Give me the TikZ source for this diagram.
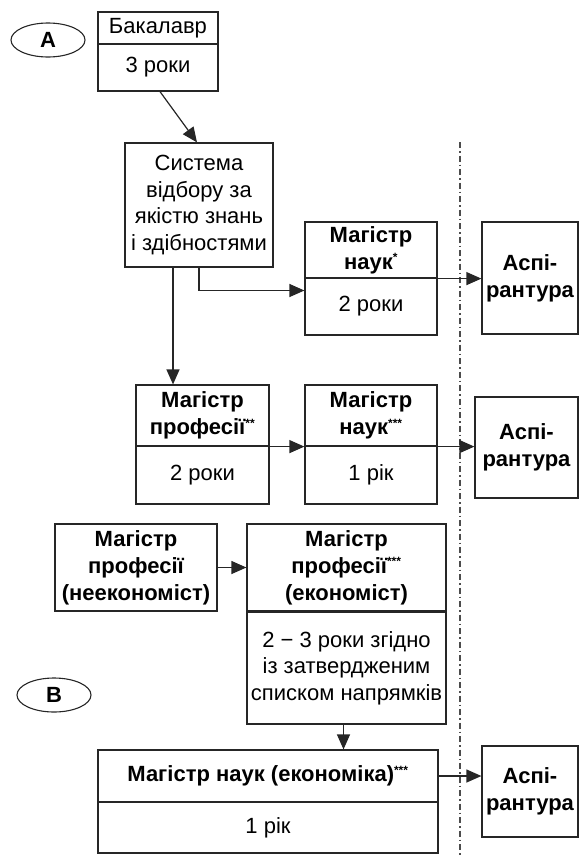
\documentclass[tikz,border=0pt]{standalone}
\usepackage{fontspec}
\setmainfont{Liberation Sans}
\usetikzlibrary{shapes.geometric,arrows.meta,calc}
\tikzset{
  box/.style={draw=black!85, line width=1.2pt, inner sep=0pt, align=center,
    font=\fontsize{22}{26.5}\selectfont},
  bbox/.style={box, font=\fontsize{22}{27}\selectfont\bfseries},
  oval/.style={ellipse, draw=black!85, line width=1.1pt, inner sep=0pt,
    minimum width=74pt, minimum height=34pt, font=\fontsize{22}{24}\selectfont\bfseries},
  arr/.style={draw=black!85, line width=1.2pt, -{Triangle[length=15pt,width=13pt]}},
  divline/.style={draw=black!70, line width=1.2pt, dash pattern=on 6pt off 3pt on 1.5pt off 3pt}
}
\newcommand{\st}[1]{\textsuperscript{\fontsize{12}{12}\selectfont #1}}
\begin{document}
\begin{tikzpicture}[x=1pt,y=-1pt]
\useasboundingbox (0,0) rectangle (579,857);
% dashed separator
\coordinate (dtop) at (460,142);
\coordinate (dbot) at (460,857);
\draw[divline] (dtop) -- (dbot);
% labels
\node[oval] (ovA) at (48,40) {A};
\node[oval] (ovB) at (54,695) {B};
% bachelor
\node[box, minimum width=120pt, minimum height=32pt] (bakT) at (158,28) {Бакалавр};
\node[box, minimum width=120pt, minimum height=47pt] (bakB) at (158,67.5) {3 роки};
% selection system
\node[box, minimum width=148pt, minimum height=124pt] (sys) at (199,205) {Система\\відбору за\\якістю знань\\і здібностями};
% master of science *
\node[bbox, minimum width=132pt, minimum height=56pt] (naukT) at (371,250) {Магістр\\наук\st{*}};
\node[box, minimum width=132pt, minimum height=57pt] (naukB) at (371,306.5) {2 роки};
\node[bbox, minimum width=96pt, minimum height=112pt] (asp1) at (530,278) {Аспі-\\рантура};
% master of profession **
\node[bbox, minimum width=133pt, minimum height=61pt] (profT) at (202.5,415.5) {Магістр\\професії\st{**}};
\node[box, minimum width=133pt, minimum height=58pt] (profB) at (202.5,475) {2 роки};
\node[bbox, minimum width=132pt, minimum height=61pt] (nauk3T) at (371,415.5) {Магістр\\наук\st{***}};
\node[box, minimum width=132pt, minimum height=58pt] (nauk3B) at (371,475) {1 рік};
\node[bbox, minimum width=103pt, minimum height=101pt] (asp2) at (526.5,447.5) {Аспі-\\рантура};
% section B
\node[bbox, minimum width=162pt, minimum height=87pt] (neek) at (136,567.5) {Магістр\\професії\\(неекономіст)};
\node[bbox, minimum width=199pt, minimum height=87pt] (ekT) at (346.5,567.5) {Магістр\\професії\st{***}\\(економіст)};
\node[box, minimum width=199pt, minimum height=112pt] (ekB) at (346.5,668) {2 − 3 роки згідно\\із затвердженим\\списком напрямків};
\node[bbox, minimum width=340pt, minimum height=52pt] (nekT) at (268,776) {Магістр наук (економіка)\st{***}};
\node[box, minimum width=340pt, minimum height=51pt] (nekB) at (268,827.5) {1 рік};
\node[bbox, minimum width=96pt, minimum height=91pt] (asp3) at (530,791.5) {Аспі-\\рантура};
% connectors
\draw[arr] ([xshift=2pt]bakB.south) -- ([xshift=-2pt]sys.north);
\draw[arr] ([xshift=-26pt]sys.south) -- ([xshift=-26pt]sys.south |- profT.north);
\draw[arr] (sys.south) |- ([yshift=16pt]naukB.west);
\draw[arr] (naukT.south east) -- (naukT.south east -| asp1.west);
\draw[arr] (profT.south east) -- (nauk3T.south west);
\draw[arr] (nauk3T.south east) -- (nauk3T.south east -| asp2.west);
\draw[arr] (neek.east) -- (neek.east -| ekT.west);
\draw[arr] ([xshift=-3pt]ekB.south) -- ([xshift=-3pt]ekB.south |- nekT.north);
\draw[arr] (nekT.east) -- (nekT.east -| asp3.west);
\end{tikzpicture}
\end{document}
